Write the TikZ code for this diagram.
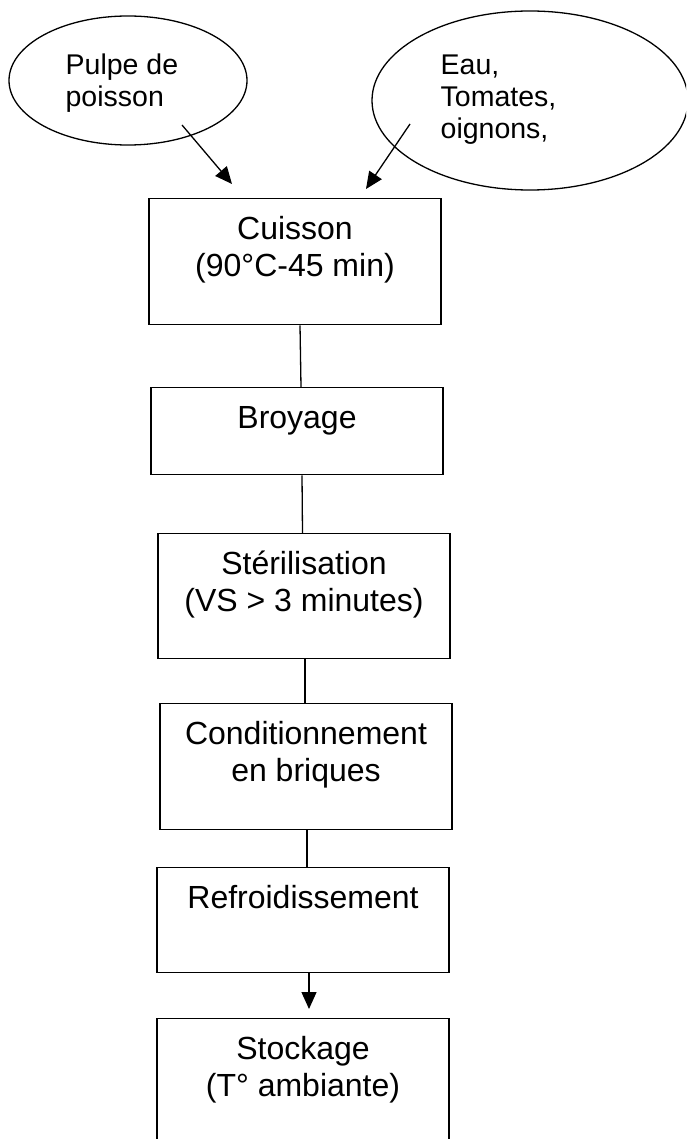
\documentclass[tikz,border=0pt]{standalone}
\usepackage{fontspec}
\setmainfont{Liberation Sans}
\usepackage{tikz}
\usetikzlibrary{shapes.geometric,arrows.meta,positioning}

\newcommand{\boxfont}{\fontsize{32}{37}\selectfont}
\newcommand{\ovalfont}{\fontsize{28.5}{32}\selectfont}

\begin{document}
\begin{tikzpicture}[
        x=1pt, y=-1pt,
        line width=1.3pt,
        oval/.style={ellipse, draw, inner sep=0pt},
        ovaltext/.style={anchor=base west, inner sep=0pt, font=\ovalfont},
        procbox/.style={rectangle, draw, anchor=north, inner sep=0pt, minimum width=292pt, text height=40.5pt, font=\boxfont},
        flow/.style={-{Triangle[length=17pt,width=15pt]}}
    ]
        \clip (0,0) rectangle (686,1139);
        \useasboundingbox (0,0) rectangle (686,1139);

        % Ingredients
        \node[oval, minimum width=238pt, minimum height=129pt] (pulpe) at (128,80.5) {};
        \node[ovaltext] (pulpetxt) at (65,75) {\begin{tabular}[t]{@{}l@{}}Pulpe de\\poisson\end{tabular}};
        \node[oval, minimum width=316pt, minimum height=179pt] (eau) at (530,100.5) {};
        \node[ovaltext] (eautxt) at (440,75) {\begin{tabular}[t]{@{}l@{}}Eau,\\Tomates,\\oignons,\end{tabular}};

        % Process steps
        \node[procbox, text depth=85.5pt] (cuisson) at (295,198) {\begin{tabular}[t]{c}Cuisson\\(90°C-45 min)\end{tabular}};
        \node[procbox, text depth=46.5pt] (broyage) at (297,387) {Broyage};
        \node[procbox, text depth=84.5pt] (sterilisation) at (304,533) {\begin{tabular}[t]{c}Stérilisation\\(VS > 3 minutes)\end{tabular}};
        \node[procbox, text depth=85.5pt] (conditionnement) at (306,703) {\begin{tabular}[t]{c}Conditionnement\\en briques\end{tabular}};
        \node[procbox, text depth=64.5pt] (refroidissement) at (303,867) {Refroidissement};
        \node[procbox, text depth=119.5pt] (stockage) at (303,1018) {\begin{tabular}[t]{c}Stockage\\(T° ambiante)\end{tabular}};

        % Connections
        \draw[flow] ([shift={(54,44.5)}]pulpe.center) -- ([shift={(-63,-14)}]cuisson.north);
        \draw[flow] ([shift={(-120,23.5)}]eau.center) -- ([shift={(71,-9)}]cuisson.north);
        \draw ([xshift=5pt]cuisson.south) -- ([xshift=4pt]broyage.north);
        \draw ([xshift=5pt]broyage.south) -- ([xshift=-1.5pt]sterilisation.north);
        \draw ([xshift=1pt]sterilisation.south) -- ([xshift=-1pt]conditionnement.north);
        \draw ([xshift=1pt]conditionnement.south) -- ([xshift=4pt]refroidissement.north);
        \draw[flow, shorten >=9pt] ([xshift=6pt]refroidissement.south) -- ([xshift=6pt]stockage.north);
    \end{tikzpicture}
\end{document}
